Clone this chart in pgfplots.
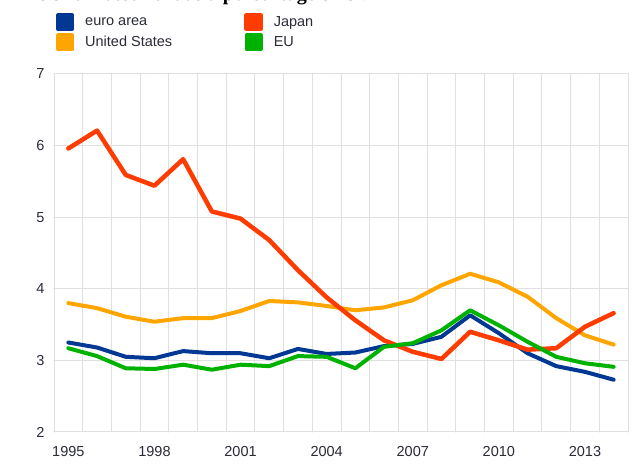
\documentclass[border=0pt]{standalone}
\usepackage{fontspec}
\setmainfont{Liberation Sans}
\newfontfamily\titlefont{Liberation Serif}
\usepackage{pgfplots}
\pgfplotsset{compat=1.18}
\definecolor{ea}{RGB}{0,56,147}
\definecolor{us}{RGB}{255,165,0}
\definecolor{jp}{RGB}{255,60,0}
\definecolor{eu}{RGB}{0,178,0}
\definecolor{gridgray}{RGB}{224,224,224}
\definecolor{labelcol}{HTML}{2A2A38}
\pgfplotsset{sqlegend/.style={legend image code/.code={\fill[##1] (0pt,-7pt) rectangle (14pt,7pt);}}}
\begin{document}
\begin{tikzpicture}[x=1pt,y=1pt]
\begin{axis}[
  at={(54pt,36pt)}, anchor=south west,
  scale only axis, width=574pt, height=358pt,
  xmin=1994.5, xmax=2014.5, ymin=2, ymax=7,
  xtick={1995,1998,...,2013},
  minor xtick={1994.5,1995.5,...,2014.5},
  ytick={2,3,...,7},
  xminorgrids, ymajorgrids,
  major tick length=0pt, minor tick length=0pt,
  axis line style={draw=gridgray, line width=1pt},
  minor grid style={draw=gridgray, line width=1pt},
  major grid style={draw=gridgray, line width=1pt},
  /pgf/number format/assume math mode=true,
  /pgf/number format/1000 sep={},
  tick label style={font=\fontsize{14.5}{16}\selectfont, text=labelcol},
  xticklabel style={yshift=-11pt},
  yticklabel style={xshift=-6pt},
  legend columns=2, transpose legend,
  legend cell align=left,
  legend style={draw=none, fill=none, at={(rel axis cs:0.0035,1.171)}, anchor=north west,
    font=\fontsize{14.5}{16}\selectfont, text=labelcol,
    inner sep=0pt, row sep=2pt,
    /tikz/every odd column/.append style={column sep=9pt},
    /tikz/every even column/.append style={column sep=70pt}},
  sqlegend,
  line join=round, line cap=round,
]
\addplot[ea, line width=4pt] coordinates {
(1995,3.25) (1996,3.18) (1997,3.05) (1998,3.03) (1999,3.13) (2000,3.10) (2001,3.10) (2002,3.03) (2003,3.16) (2004,3.09) (2005,3.11) (2006,3.20) (2007,3.23) (2008,3.33) (2009,3.63) (2010,3.38) (2011,3.10) (2012,2.92) (2013,2.84) (2014,2.73)};
\addlegendentry{euro area}
\addplot[us, line width=4pt] coordinates {
(1995,3.80) (1996,3.73) (1997,3.61) (1998,3.54) (1999,3.59) (2000,3.59) (2001,3.69) (2002,3.83) (2003,3.81) (2004,3.76) (2005,3.70) (2006,3.74) (2007,3.84) (2008,4.05) (2009,4.21) (2010,4.09) (2011,3.89) (2012,3.59) (2013,3.35) (2014,3.22)};
\addlegendentry{United States}
\addplot[jp, line width=4.5pt] coordinates {
(1995,5.96) (1996,6.21) (1997,5.59) (1998,5.44) (1999,5.81) (2000,5.08) (2001,4.98) (2002,4.68) (2003,4.26) (2004,3.88) (2005,3.56) (2006,3.28) (2007,3.12) (2008,3.02) (2009,3.40) (2010,3.28) (2011,3.15) (2012,3.17) (2013,3.47) (2014,3.66)};
\addlegendentry{Japan}
\addplot[eu, line width=4pt] coordinates {
(1995,3.17) (1996,3.06) (1997,2.89) (1998,2.88) (1999,2.94) (2000,2.87) (2001,2.94) (2002,2.92) (2003,3.06) (2004,3.05) (2005,2.89) (2006,3.19) (2007,3.24) (2008,3.42) (2009,3.70) (2010,3.49) (2011,3.26) (2012,3.05) (2013,2.96) (2014,2.91)};
\addlegendentry{EU}
\end{axis}
\pgfresetboundingbox
\useasboundingbox (0,0) rectangle (632,468);
\begin{scope}
\clip (0,0) rectangle (632,468);
\node[anchor=base west, inner sep=0pt, font=\titlefont\bfseries\fontsize{20}{23}\selectfont] at (27,467) {Public investment as a percentage of GDP};
\end{scope}
\end{tikzpicture}
\end{document}
